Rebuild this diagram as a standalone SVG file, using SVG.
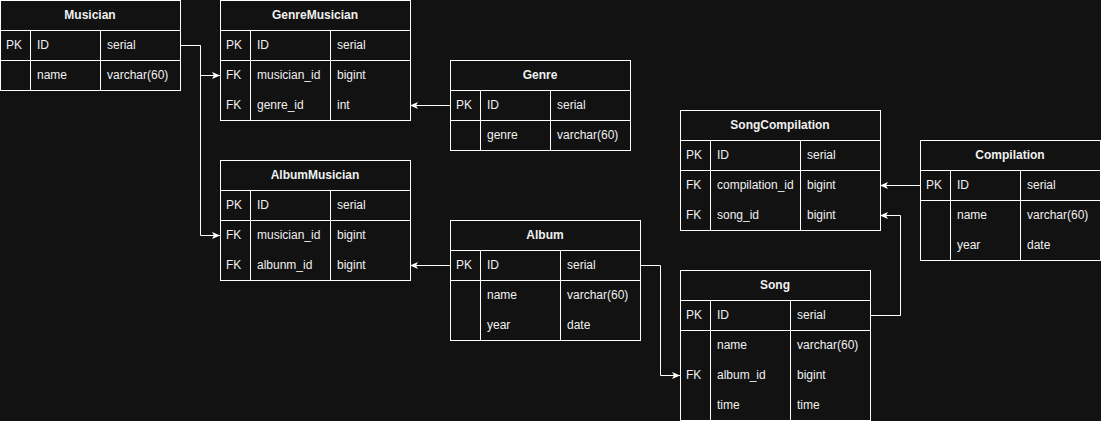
<svg xmlns="http://www.w3.org/2000/svg" width="1101" height="421" viewBox="0 0 1101 421">
<style>
.bg{fill:#121212}
.box{fill:#121212;stroke:#ffffff;stroke-width:1}
.ln{stroke:#ffffff;stroke-width:1;fill:none}
.t{font-family:"Liberation Sans",Arial,Helvetica,sans-serif;font-size:12px;fill:#f0f0f0}
.h{font-weight:bold;text-anchor:middle}
.c{stroke:#ffffff;stroke-width:1;fill:none;marker-end:url(#arr)}
</style>
<defs>
<marker id="arr" markerUnits="userSpaceOnUse" viewBox="0 0 8 8" refX="8" refY="4" markerWidth="8" markerHeight="8" orient="auto">
<path d="M0,0.5 L8,4 L0,7.5 L2,4 Z" fill="#ffffff"/>
</marker>
</defs>
<rect class="bg" x="0" y="0" width="1101" height="421"/>

<g id="connectors">
<path class="c" d="M180,45.5 H200.5 V75.5 H220"/>
<path class="c" d="M180,45.5 H200.5 V235.5 H220"/>
<path class="c" d="M450,105.5 H410"/>
<path class="c" d="M450,265.5 H410"/>
<path class="c" d="M640,265.5 H660.5 V375.5 H680"/>
<path class="c" d="M920,185.5 H880"/>
<path class="c" d="M870,315.5 H900.5 V215.5 H880"/>
</g>

<g id="Musician">
<rect class="box" x="0.5" y="0.5" width="180" height="90"/>
<path class="ln" d="M0.5,30.5 H180.5 M0.5,60.5 H180.5 M30.5,30.5 V90.5 M100.5,30.5 V90.5"/>
<text class="t h" x="90" y="19">Musician</text>
<text class="t" x="6" y="49">PK</text><text class="t" x="37" y="49">ID</text><text class="t" x="107" y="49">serial</text>
<text class="t" x="37" y="79">name</text><text class="t" x="107" y="79">varchar(60)</text>
</g>

<g id="GenreMusician">
<rect class="box" x="220.5" y="0.5" width="190" height="120"/>
<path class="ln" d="M220.5,30.5 H410.5 M220.5,60.5 H410.5 M250.5,30.5 V120.5 M330.5,30.5 V120.5"/>
<text class="t h" x="315" y="19">GenreMusician</text>
<text class="t" x="226" y="49">PK</text><text class="t" x="257" y="49">ID</text><text class="t" x="337" y="49">serial</text>
<text class="t" x="226" y="79">FK</text><text class="t" x="257" y="79">musician_id</text><text class="t" x="337" y="79">bigint</text>
<text class="t" x="226" y="109">FK</text><text class="t" x="257" y="109">genre_id</text><text class="t" x="337" y="109">int</text>
</g>

<g id="Genre">
<rect class="box" x="450.5" y="60.5" width="180" height="90"/>
<path class="ln" d="M450.5,90.5 H630.5 M450.5,120.5 H630.5 M480.5,90.5 V150.5 M550.5,90.5 V150.5"/>
<text class="t h" x="540" y="79">Genre</text>
<text class="t" x="456" y="109">PK</text><text class="t" x="487" y="109">ID</text><text class="t" x="557" y="109">serial</text>
<text class="t" x="487" y="139">genre</text><text class="t" x="557" y="139">varchar(60)</text>
</g>

<g id="AlbumMusician">
<rect class="box" x="220.5" y="160.5" width="190" height="120"/>
<path class="ln" d="M220.5,190.5 H410.5 M220.5,220.5 H410.5 M250.5,190.5 V280.5 M330.5,190.5 V280.5"/>
<text class="t h" x="315" y="179">AlbumMusician</text>
<text class="t" x="226" y="209">PK</text><text class="t" x="257" y="209">ID</text><text class="t" x="337" y="209">serial</text>
<text class="t" x="226" y="239">FK</text><text class="t" x="257" y="239">musician_id</text><text class="t" x="337" y="239">bigint</text>
<text class="t" x="226" y="269">FK</text><text class="t" x="257" y="269">albunm_id</text><text class="t" x="337" y="269">bigint</text>
</g>

<g id="Album">
<rect class="box" x="450.5" y="220.5" width="190" height="120"/>
<path class="ln" d="M450.5,250.5 H640.5 M450.5,280.5 H640.5 M480.5,250.5 V340.5 M560.5,250.5 V340.5"/>
<text class="t h" x="545" y="239">Album</text>
<text class="t" x="456" y="269">PK</text><text class="t" x="487" y="269">ID</text><text class="t" x="567" y="269">serial</text>
<text class="t" x="487" y="299">name</text><text class="t" x="567" y="299">varchar(60)</text>
<text class="t" x="487" y="329">year</text><text class="t" x="567" y="329">date</text>
</g>

<g id="Song">
<rect class="box" x="680.5" y="270.5" width="190" height="150"/>
<path class="ln" d="M680.5,300.5 H870.5 M680.5,330.5 H870.5 M710.5,300.5 V420.5 M790.5,300.5 V420.5"/>
<text class="t h" x="775" y="289">Song</text>
<text class="t" x="686" y="319">PK</text><text class="t" x="717" y="319">ID</text><text class="t" x="797" y="319">serial</text>
<text class="t" x="717" y="349">name</text><text class="t" x="797" y="349">varchar(60)</text>
<text class="t" x="686" y="379">FK</text><text class="t" x="717" y="379">album_id</text><text class="t" x="797" y="379">bigint</text>
<text class="t" x="717" y="409">time</text><text class="t" x="797" y="409">time</text>
</g>

<g id="SongCompilation">
<rect class="box" x="680.5" y="110.5" width="200" height="120"/>
<path class="ln" d="M680.5,140.5 H880.5 M680.5,170.5 H880.5 M710.5,140.5 V230.5 M800.5,140.5 V230.5"/>
<text class="t h" x="780" y="129">SongCompilation</text>
<text class="t" x="686" y="159">PK</text><text class="t" x="717" y="159">ID</text><text class="t" x="807" y="159">serial</text>
<text class="t" x="686" y="189">FK</text><text class="t" x="717" y="189">compilation_id</text><text class="t" x="807" y="189">bigint</text>
<text class="t" x="686" y="219">FK</text><text class="t" x="717" y="219">song_id</text><text class="t" x="807" y="219">bigint</text>
</g>

<g id="Compilation">
<rect class="box" x="920.5" y="140.5" width="180" height="120"/>
<path class="ln" d="M920.5,170.5 H1100.5 M920.5,200.5 H1100.5 M950.5,170.5 V260.5 M1020.5,170.5 V260.5"/>
<text class="t h" x="1010" y="159">Compilation</text>
<text class="t" x="926" y="189">PK</text><text class="t" x="957" y="189">ID</text><text class="t" x="1027" y="189">serial</text>
<text class="t" x="957" y="219">name</text><text class="t" x="1027" y="219">varchar(60)</text>
<text class="t" x="957" y="249">year</text><text class="t" x="1027" y="249">date</text>
</g>
</svg>
